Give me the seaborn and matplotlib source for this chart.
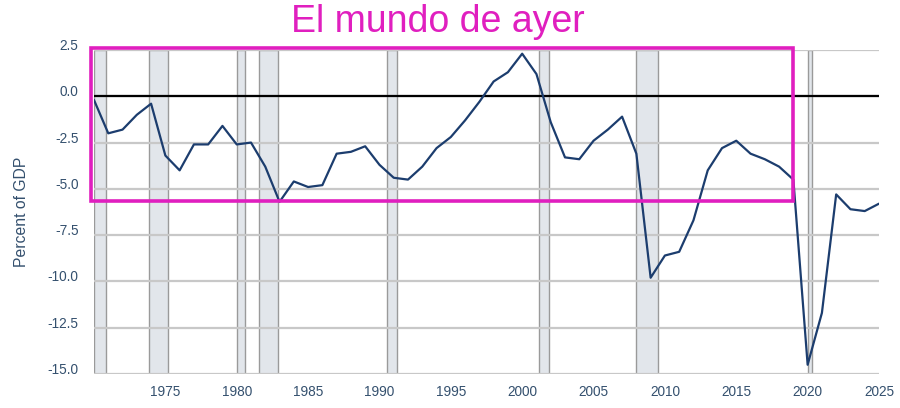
import matplotlib
matplotlib.use("Agg")
import matplotlib.pyplot as plt
import seaborn as sns
import pandas as pd
from matplotlib.patches import Rectangle

# ----------------------------------------------------------------------
# Data: federal surplus/deficit, percent of GDP
# ----------------------------------------------------------------------
years = list(range(1970, 2026))
balance = [
    -0.2, -2.0, -1.8, -1.0, -0.4, -3.2, -4.0, -2.6, -2.6, -1.6,
    -2.6, -2.5, -3.8, -5.7, -4.6, -4.9, -4.8, -3.1, -3.0, -2.7,
    -3.7, -4.4, -4.5, -3.8, -2.8, -2.2, -1.3, -0.3, 0.8, 1.3,
    2.3, 1.2, -1.4, -3.3, -3.4, -2.4, -1.8, -1.1, -3.1, -9.8,
    -8.6, -8.4, -6.7, -4.0, -2.8, -2.4, -3.1, -3.4, -3.8, -4.5,
    -14.5, -11.7, -5.3, -6.1, -6.2, -5.8,
]

# recessions (start / end as fractional years)
rec_start = [1970.0, 1973.85, 1980.05, 1981.55, 1990.55, 2001.2, 2007.95, 2020.05]
rec_end = [1970.85, 1975.2, 1980.55, 1982.9, 1991.2, 2001.9, 2009.5, 2020.3]

x_ticks = [1975, 1980, 1985, 1990, 1995, 2000, 2005, 2010, 2015, 2020, 2025]
y_ticks = [2.5, 0.0, -2.5, -5.0, -7.5, -10.0, -12.5, -15.0]

# highlighted window: "yesterday's world"
box_x = [1969.8, 2019.0]
box_y = [-5.65, 2.63]
title = "El mundo de ayer"

df = pd.DataFrame({"year": years, "balance": balance})

# ----------------------------------------------------------------------
# Style
# ----------------------------------------------------------------------
sns.set_style("white")
plt.rcParams["font.family"] = ["Liberation Sans", "DejaVu Sans"]

MAGENTA = "#E01FBF"
NAVY = "#1C3D6E"
TEXT = "#34506E"
GRID = "#C8C8C8"

fig = plt.figure(figsize=(9, 4.08), dpi=100)
ax = fig.add_axes([94 / 900, 1 - 374 / 408, 785 / 900, 324 / 408])

for s, e in zip(rec_start, rec_end):
    ax.axvspan(s, e, facecolor="#E2E6EB", edgecolor="#9A9A9A", linewidth=1, zorder=0.3)

for v in y_ticks:
    ax.axhline(v, color=GRID, linewidth=1.6, zorder=0.6)
ax.axhline(0, color="black", linewidth=1.6, zorder=2)

sns.lineplot(data=df, x="year", y="balance", ax=ax, color=NAVY, linewidth=1.6, zorder=3)

ax.add_patch(Rectangle((box_x[0], box_y[0]), box_x[1] - box_x[0], box_y[1] - box_y[0],
                       fill=False, edgecolor=MAGENTA, linewidth=2.6, clip_on=False, zorder=5))
fig.text(438 / 900, 1 - 22 / 408, title, ha="center", va="center",
         fontsize=27, color=MAGENTA)

ax.set_xlim(1970, 2025)
ax.set_ylim(-15, 2.5)
ax.set_xticks(x_ticks)
ax.set_yticks(y_ticks)
ax.set_yticklabels([f"{v:.1f}" for v in y_ticks])
ax.tick_params(axis="both", length=0, labelsize=9.8, labelcolor=TEXT)
ax.tick_params(axis="x", pad=8)
ax.tick_params(axis="y", pad=11)
plt.setp(ax.get_yticklabels(), va="baseline")

ax.set_xlabel("")
ax.set_ylabel("Percent of GDP", fontsize=11.3, color=TEXT)
ax.yaxis.set_label_coords(-65 / 785, 0.5)
for side in ["top", "right", "left", "bottom"]:
    ax.spines[side].set_visible(False)

fig.savefig("out.png", dpi=100)
plt.close(fig)
